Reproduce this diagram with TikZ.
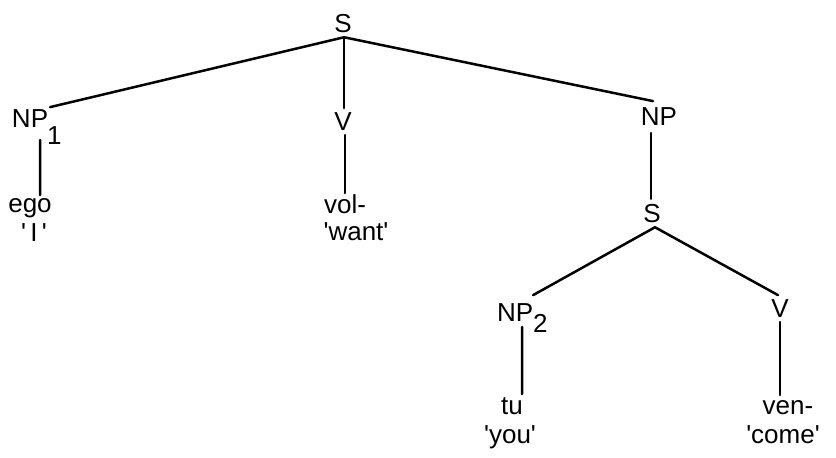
\documentclass[tikz,border=0pt]{standalone}
\usepackage{fontspec}
\usetikzlibrary{calc}
\newfontfamily\treefont{Liberation Sans}
\tikzset{
  lbl/.style={inner sep=0pt, outer sep=0pt, font=\treefont\fontsize{26}{30}\selectfont, anchor=base},
  branch/.style={line width=2.5pt, line cap=round}
}
\begin{document}
\begin{tikzpicture}[x=1pt,y=-1pt]
\useasboundingbox[fill=white] (0,0) rectangle (836,458);
% nodes
\node[lbl] (S) at (343,32) {S};
\node[lbl, anchor=base west] (NP1) at (12,127) {NP\rlap{\smash{\raisebox{-17pt}{\hspace{-1pt}1}}}};
\node[lbl] (V1) at (343,130) {V};
\node[lbl] (NP) at (659,125) {NP};
\node[lbl] (ego) at (30,212) {ego};
\node[lbl] (glI) at (34,241) {'\,I\,'};
\node[lbl] (vol) at (345,213) {vol-};
\node[lbl] (want) at (356,240) {'want'};
\node[lbl] (S2) at (652,222) {S};
\node[lbl, anchor=base west] (NP2) at (497,321) {NP\rlap{\smash{\raisebox{-11pt}{2}}}};
\node[lbl] (V2) at (780,317) {V};
\node[lbl] (tu) at (512,414) {tu};
\node[lbl] (you) at (510,443) {'you'};
\node[lbl] (ven) at (788,414) {ven-};
\node[lbl] (come) at (783,443) {'come'};
% branches
\draw[branch] ($(S.south)+(1,5)$) -- ($(NP1.north east)+(2,-2)$);
\draw[branch] ($(S.south)+(1,5)$) -- ($(V1.north)+(1,-4)$);
\draw[branch] ($(S.south)+(1,5)$) -- ($(NP.north)+(-6,-6)$);
\draw[branch] ($(NP1.south east)+(-8,13)$) -- ($(ego.north)+(10,-3)$);
\draw[branch] ($(V1.south)+(2,5)$) -- ($(vol.north)+(0,-1)$);
\draw[branch] ($(NP.south)+(-8,8)$) -- ($(S2.north)+(-1,-5)$);
\draw[branch] ($(S2.south)+(3,5)$) -- ($(NP2.north east)+(0,-8)$);
\draw[branch] ($(S2.south)+(3,5)$) -- ($(V2.north)+(-2,-4)$);
\draw[branch] ($(NP2.south)+(7,6)$) -- ($(tu.north)+(10,-3)$);
\draw[branch] ($(V2.south)+(0,5)$) -- ($(ven.north)+(-8,-5)$);
\end{tikzpicture}
\end{document}
